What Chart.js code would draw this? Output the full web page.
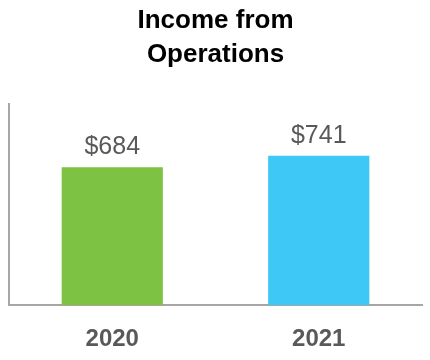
<!DOCTYPE html>
<html>
<head>
<meta charset="utf-8">
<script src="https://cdn.jsdelivr.net/npm/chart.js@4.4.0/dist/chart.umd.min.js"></script>
<style>
  html, body { margin: 0; padding: 0; background: #fff; }
  #wrap { width: 430px; height: 360px; }
</style>
</head>
<body>
<div id="wrap"><canvas id="chart" width="430" height="360"></canvas></div>
<script>
// Données
const years = ['2020', '2021'];
const income = [684, 741];
const valueLabels = ['$684', '$741'];
const barColors = ['#7dc242', '#3dc8f5'];

const FONT = '"Liberation Sans", Arial, sans-serif';

// Étiquettes de valeur au-dessus des barres
const valueLabelPlugin = {
    id: 'valueLabels',
    afterDatasetsDraw(chart) {
        const ctx = chart.ctx;
        const meta = chart.getDatasetMeta(0);
        ctx.save();
        ctx.font = '25px ' + FONT;
        ctx.fillStyle = '#595959';
        ctx.textAlign = 'center';
        ctx.textBaseline = 'alphabetic';
        meta.data.forEach((bar, i) => {
            ctx.fillText(valueLabels[i], bar.x, bar.y - 13);
        });
        ctx.restore();
    }
};

new Chart(document.getElementById('chart'), {
    type: 'bar',
    data: {
        labels: years,
        datasets: [{
            data: income,
            backgroundColor: barColors,
            barPercentage: 0.49,
            categoryPercentage: 1
        }]
    },
    options: {
        responsive: false,
        animation: false,
        layout: { padding: { left: 9, right: 8, bottom: -14 } },
        plugins: {
            legend: { display: false },
            tooltip: { enabled: false },
            title: {
                display: true,
                text: ['Income from', 'Operations'],
                color: '#000',
                font: { family: FONT, size: 26, weight: 'bold', lineHeight: 1.3 },
                padding: { top: 4, bottom: 32 }
            }
        },
        scales: {
            x: {
                grid: { display: false, drawTicks: false },
                border: { display: true, color: '#a6a6a6', width: 2 },
                ticks: {
                    color: '#595959',
                    padding: 20,
                    font: { family: FONT, size: 24, weight: 'bold' }
                }
            },
            y: {
                min: 0,
                max: 1000,
                grid: { display: false, drawTicks: false },
                border: { display: true, color: '#a6a6a6', width: 2 },
                ticks: { display: false }
            }
        }
    },
    plugins: [valueLabelPlugin]
});
</script>
</body>
</html>
